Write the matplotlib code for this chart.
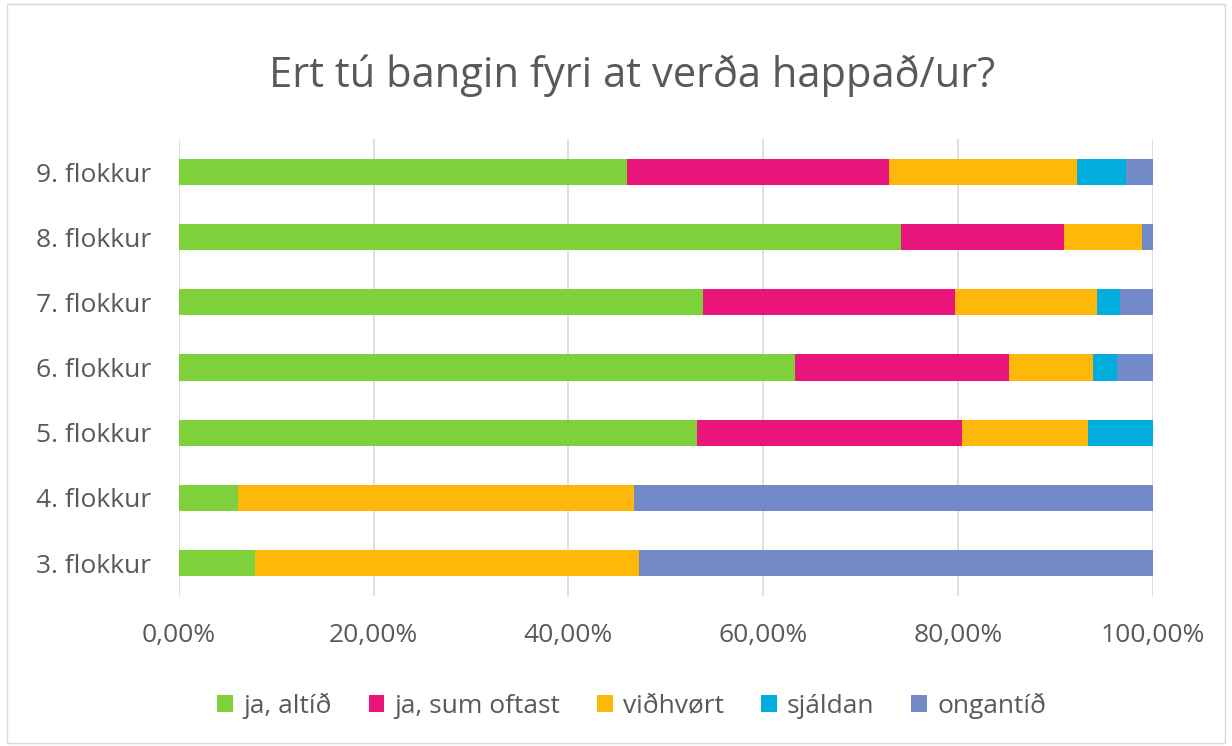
import numpy as np
import matplotlib.pyplot as plt
from matplotlib.ticker import FuncFormatter
from matplotlib.patches import Rectangle

plt.rcParams['font.family'] = ['Open Sans', 'DejaVu Sans']

# Data (share of answers, %)
grades = ["3. flokkur", "4. flokkur", "5. flokkur", "6. flokkur",
          "7. flokkur", "8. flokkur", "9. flokkur"]
answers = ["ja, altíð", "ja, sum oftast", "viðhvørt", "sjáldan", "ongantíð"]
ja_altid = [7.8, 6.1, 53.2, 63.3, 53.8, 74.2, 46.0]
ja_sum_oftast = [0.0, 0.0, 27.2, 22.0, 25.9, 16.7, 26.9]
vidhvort = [39.4, 40.6, 13.0, 8.6, 14.6, 8.0, 19.3]
sjaldan = [0.0, 0.0, 6.6, 2.4, 2.4, 0.0, 5.1]
ongantid = [52.8, 53.3, 0.0, 3.7, 3.3, 1.1, 2.7]
colors = ["#7FD13B", "#EA157A", "#FEB80A", "#00ADDC", "#738AC8"]

series = [ja_altid, ja_sum_oftast, vidhvort, sjaldan, ongantid]

fig = plt.figure(figsize=(12.32, 7.46), dpi=100)
ax = fig.add_axes([0.1453, 0.2016, 0.7902, 0.6115])

y = np.arange(len(grades))
left = np.zeros(len(grades))
for vals, name, col in zip(series, answers, colors):
    vals = np.array(vals)
    ax.barh(y, vals, left=left, height=0.4, color=col, label=name, zorder=3)
    left += vals

ax.set_xlim(0, 100)
ax.set_ylim(-0.5, len(grades) - 0.5)
ax.set_yticks(y)
ax.set_yticklabels(grades)
ax.set_xticks(np.arange(0, 101, 20))
ax.xaxis.set_major_formatter(FuncFormatter(lambda v, p: f"{v:.2f}%".replace(".", ",")))
ax.grid(axis="x", color="#D9D9D9", linewidth=1.2, zorder=0)
for s in ax.spines.values():
    s.set_visible(False)
ax.tick_params(length=0, labelsize=19, colors="#595959")
ax.tick_params(axis="y", pad=20)
ax.tick_params(axis="x", pad=20)

fig.suptitle("Ert tú bangin fyri at verða happað/ur?", x=0.513, y=0.927, fontsize=30, color="#595959")

ax.legend(loc="upper center", bbox_to_anchor=(0.465, -0.16), ncol=5, frameon=False,
          fontsize=19, labelcolor="#595959", handlelength=0.6, handleheight=0.6,
          handletextpad=0.38, columnspacing=1.4)

fig.patches.append(Rectangle((0.006, 0.004), 0.988, 0.99, transform=fig.transFigure,
                             fill=False, edgecolor="#D9D9D9", linewidth=1))

fig.savefig("out.png", dpi=100)
